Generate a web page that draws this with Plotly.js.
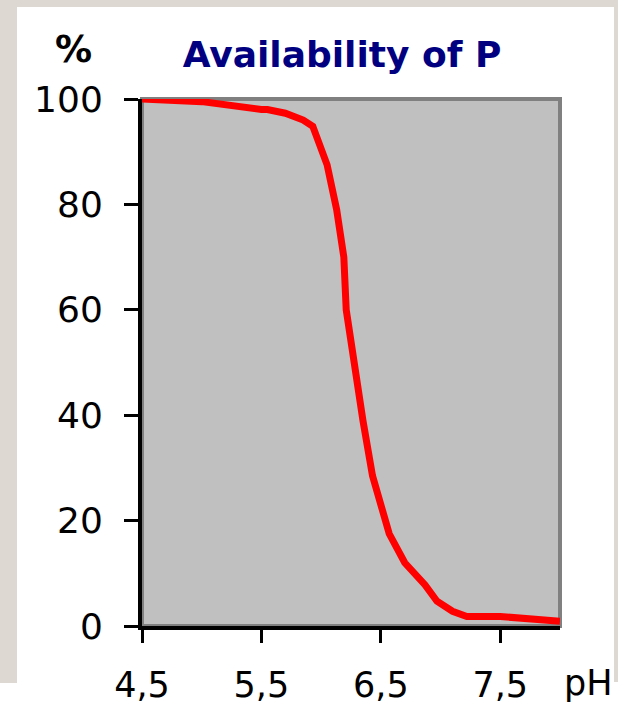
<!DOCTYPE html>
<html>
<head>
<meta charset="utf-8">
<script src="https://cdn.plot.ly/plotly-3.0.1.min.js"></script>
<style>
  html, body { margin: 0; padding: 0; background: #ffffff; }
  #chart { width: 618px; height: 710px; }
</style>
</head>
<body>
<div id="chart"></div>
<script>
// Data
const phValues = [4.5, 5.0, 5.5, 5.55, 5.7, 5.85, 5.93, 5.97, 6.05, 6.13, 6.19, 6.21, 6.28, 6.35, 6.43, 6.57, 6.7, 6.87, 6.97, 7.1, 7.22, 7.5, 8.0];
const availability = [100, 99.5, 98, 98, 97.3, 96, 94.8, 92.6, 87.5, 79, 70, 60, 49, 39, 28.5, 17.5, 12, 7.8, 4.7, 2.8, 1.8, 1.8, 0.9];
const xTickValues = [4.5, 5.5, 6.5, 7.5];
const xTickLabels = ['4,5', '5,5', '6,5', '7,5'];
const yTickValues = [0, 20, 40, 60, 80, 100];
const yTickLabels = ['0', '20', '40', '60', '80', '100'];
const chartTitle = 'Availability of P';
const yUnitLabel = '%';
const xUnitLabel = 'pH';

const FONT = 'DejaVu Sans, Arial, sans-serif';
const BEIGE = '#ded8d3';

const trace = {
  x: phValues,
  y: availability,
  type: 'scatter',
  mode: 'lines',
  line: { color: '#ff0000', width: 7 },
  hoverinfo: 'skip',
  showlegend: false
};

const layout = {
  width: 618,
  height: 710,
  margin: { l: 142, r: 58, t: 99, b: 84 },
  paper_bgcolor: '#ffffff',
  plot_bgcolor: '#c0c0c0',
  showlegend: false,
  title: {
    text: '<b>' + chartTitle + '</b>',
    font: { family: FONT, size: 36, color: '#000080' },
    x: 342 / 618,
    xanchor: 'center',
    y: 1 - 54 / 710,
    yanchor: 'middle'
  },
  xaxis: {
    range: [4.5, 8.0],
    tickmode: 'array',
    tickvals: xTickValues,
    ticktext: xTickLabels,
    ticks: 'outside',
    ticklen: 13,
    tickwidth: 3,
    tickcolor: '#000000',
    showline: true,
    linecolor: '#000000',
    linewidth: 4,
    showgrid: false,
    zeroline: false,
    ticklabelstandoff: 12,
    tickfont: { family: FONT, size: 35, color: '#000000' },
    fixedrange: true
  },
  yaxis: {
    range: [0, 100],
    tickmode: 'array',
    tickvals: yTickValues,
    ticktext: yTickLabels,
    ticks: 'outside',
    ticklen: 14,
    tickwidth: 3,
    tickcolor: '#000000',
    showline: true,
    linecolor: '#000000',
    linewidth: 4,
    showgrid: false,
    zeroline: false,
    ticklabelstandoff: 14,
    tickfont: { family: FONT, size: 36, color: '#000000' },
    fixedrange: true
  },
  shapes: [
    // beige surround (left, top, right strips)
    { type: 'rect', xref: 'paper', yref: 'paper', x0: -142 / 418, x1: (17 - 142) / 418, y0: (626 - 683) / 527, y1: 626 / 527, fillcolor: BEIGE, line: { width: 0 }, layer: 'below' },
    { type: 'rect', xref: 'paper', yref: 'paper', x0: -142 / 418, x1: (618 - 142) / 418, y0: (626 - 7) / 527, y1: 626 / 527, fillcolor: BEIGE, line: { width: 0 }, layer: 'below' },
    { type: 'rect', xref: 'paper', yref: 'paper', x0: (614 - 142) / 418, x1: (618 - 142) / 418, y0: (626 - 682) / 527, y1: 626 / 527, fillcolor: BEIGE, line: { width: 0 }, layer: 'below' },
    // grey frame of the plot area
    { type: 'rect', xref: 'paper', yref: 'paper', x0: 0, x1: 1, y0: 0, y1: 1, fillcolor: 'rgba(0,0,0,0)', line: { color: '#808080', width: 4 }, layer: 'below' }
  ],
  annotations: [
    {
      text: '<b>' + yUnitLabel + '</b>',
      xref: 'paper', yref: 'paper',
      x: (73 - 142) / 418, y: (626 - 50) / 527,
      xanchor: 'center', yanchor: 'middle',
      showarrow: false,
      font: { family: FONT, size: 37, color: '#000000' }
    },
    {
      text: xUnitLabel,
      xref: 'paper', yref: 'paper',
      x: (588 - 142) / 418, y: (626 - 683) / 527,
      xanchor: 'center', yanchor: 'middle',
      showarrow: false,
      font: { family: FONT, size: 35, color: '#000000' }
    }
  ]
};

Plotly.newPlot('chart', [trace], layout, { displayModeBar: false, staticPlot: true });
</script>
</body>
</html>
